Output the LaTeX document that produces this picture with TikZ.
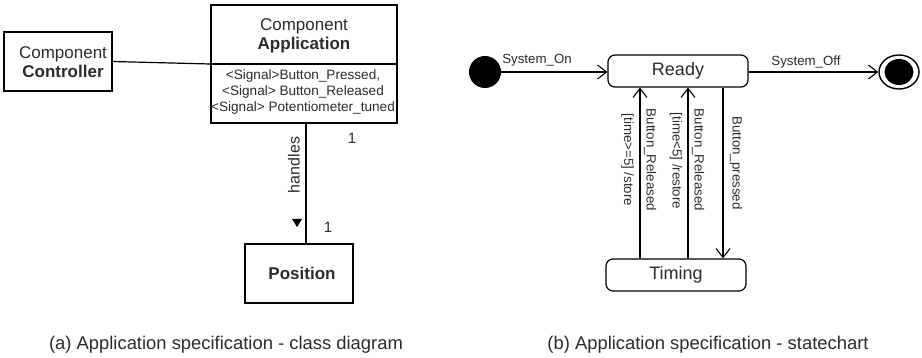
\documentclass[tikz,border=0pt]{standalone}
\usepackage{fontspec}
\setmainfont{Liberation Sans}
\usetikzlibrary{arrows.meta,shapes.geometric}

\definecolor{ink}{HTML}{2B2B2B}

\begin{document}
\begin{tikzpicture}[x=1pt, y=-1pt,
  classbox/.style={draw=black, line width=1.6pt, inner sep=0pt},
  thinbox/.style={draw=black, line width=1.3pt, inner sep=0pt},
  statebox/.style={draw=black, line width=1.2pt, rounded corners=7pt,
    minimum width=140pt, minimum height=32pt, inner sep=0pt,
    text=ink, font=\fontsize{18}{20}\selectfont},
  lbl/.style={text=ink, inner sep=0pt, font=\fontsize{13.3}{15}\selectfont},
  vlbl/.style={lbl, rotate=-90},
  conn/.style={draw=black, line width=1.2pt},
  arr/.style={conn, -{Straight Barb[length=9pt, width=14pt, line width=1.1pt]}},
  captext/.style={text=ink, inner sep=0pt, anchor=base, font=\fontsize{18.4}{20}\selectfont}
]
\useasboundingbox (0,0) rectangle (922,358);

% ---------- class diagram ----------
\node[classbox, minimum width=108pt, minimum height=59pt] (ctrl) at (58,61.5) {};
\node[text=ink, align=center, inner sep=0pt, font=\fontsize{17}{19}\selectfont]
  (ctrltxt) at (63,62.5) {Component\\\textbf{Controller}};

\node[classbox, minimum width=186pt, minimum height=118pt] (app) at (304,64) {};
\coordinate (divl) at (211,64);
\coordinate (divr) at (397,64);
\draw[line width=1.6pt] (divl) -- (divr);
\node[text=ink, align=center, inner sep=0pt, font=\fontsize{17}{19}\selectfont]
  (apptxt) at (304,35.5) {Component\\\textbf{Application}};
\node[text=ink, align=center, inner sep=0pt, font=\fontsize{13.6}{16}\selectfont]
  (sigtxt) at (303,92) {<Signal>Button\_Pressed,\\<Signal> Button\_Released\\<Signal> Potentiometer\_tuned};

\node[thinbox, minimum width=108pt, minimum height=59pt] (pos) at (299,273.5) {};
\node[text=ink, inner sep=0pt, font=\fontsize{17}{19}\selectfont\bfseries]
  (postxt) at (302,273.5) {Position};

\draw[conn] (ctrl.east) -- (app.west);
\draw[conn] ([xshift=2pt]app.south) -- ([xshift=7pt]pos.north);

\node[text=ink, rotate=90, inner sep=0pt, font=\fontsize{16}{18}\selectfont]
  (handles) at (294,165) {handles};
\node[text=ink, inner sep=0pt, font=\fontsize{15}{17}\selectfont] (multa) at (352,138) {1};
\node[text=ink, inner sep=0pt, font=\fontsize{15}{17}\selectfont] (multb) at (328,227) {1};
\fill[black] (292,219) -- (302,219) -- (297,227) -- cycle;

% ---------- statechart ----------
\node[circle, fill=black, minimum size=32pt, inner sep=0pt] (init) at (485,72) {};
\node[statebox] (ready) at (678,71) {Ready};
\node[statebox] (timing) at (676,275) {Timing};
\node[ellipse, draw=black, line width=1.4pt, minimum width=40pt, minimum height=34pt,
  inner sep=0pt] (final) at (899,72) {};
\node[ellipse, fill=black, minimum width=29pt, minimum height=26pt, inner sep=0pt]
  (finaldot) at (899,72) {};

\draw[arr] (init.east) -- (ready.west |- init.east);
\draw[arr] (ready.east |- final.west) -- (final.west);
\node[lbl] (lon) at (537,60) {System\_On};
\node[lbl] (loff) at (806,62) {System\_Off};

\coordinate (xa) at (640,0);
\coordinate (xb) at (688,0);
\coordinate (xc) at (723,0);
\draw[arr] (timing.north -| xa) -- (ready.south -| xa);
\draw[arr] (timing.north -| xb) -- (ready.south -| xb);
\draw[arr] (ready.south -| xc) -- (timing.north -| xc);

\node[vlbl] (g1) at (627.5,160) {[time>=5] /store};
\node[vlbl] (e1) at (650,160) {Button\_Released};
\node[vlbl] (g2) at (676,161) {[time<5] /restore};
\node[vlbl] (e2) at (698,160) {Button\_Released};
\node[vlbl] (e3) at (736,163) {Button\_pressed};

% ---------- captions ----------
\node[captext] (capa) at (226,350) {(a) Application specification - class diagram};
\node[captext] (capb) at (708,350) {(b) Application specification - statechart};
\end{tikzpicture}
\end{document}
